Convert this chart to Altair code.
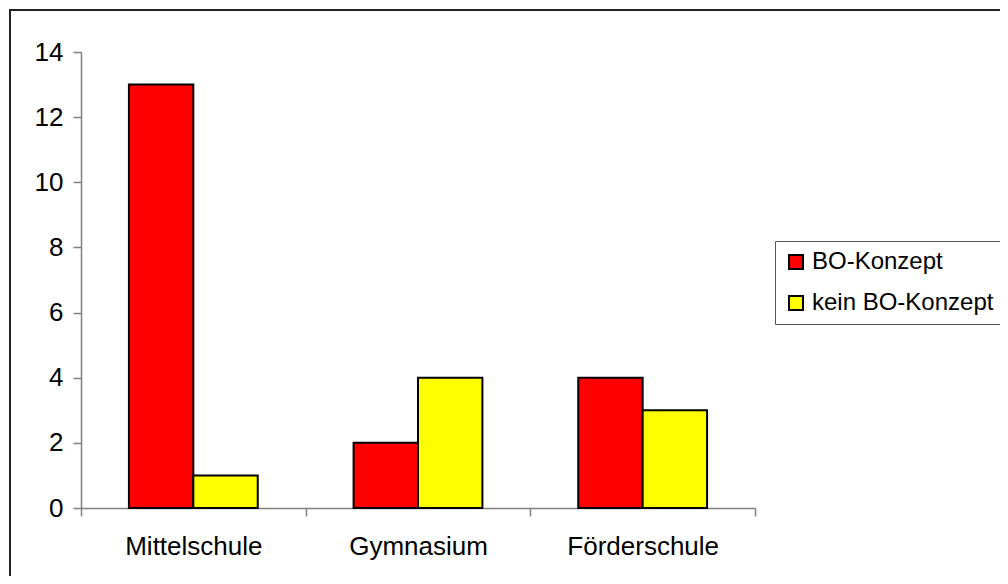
import altair as alt
import pandas as pd

categories = ["Mittelschule", "Gymnasium", "Förderschule"]
series = ["BO-Konzept", "kein BO-Konzept"]
bo_konzept = [13, 2, 4]
kein_bo_konzept = [1, 4, 3]
colors = ["#FF0000", "#FFFF00"]
y_ticks = [0, 2, 4, 6, 8, 10, 12, 14]

rows = []
for i, c in enumerate(categories):
    rows.append({"Schule": c, "Serie": series[0], "Wert": bo_konzept[i]})
    rows.append({"Schule": c, "Serie": series[1], "Wert": kein_bo_konzept[i]})
df = pd.DataFrame(rows)

FONT = "Liberation Sans"
FS = 26
W, H = 674, 456

bars = alt.Chart(df).mark_bar(stroke="black", strokeWidth=2).encode(
    x=alt.X(
        "Schule:N", sort=categories, title=None,
        scale=alt.Scale(paddingInner=0, paddingOuter=0),
        axis=alt.Axis(labelAngle=0, tickBand="extent", domainColor="#808080",
                      tickColor="#808080", tickSize=8, labelPadding=17,
                      labelFontSize=FS, labelColor="black", labelFont=FONT,
                      grid=False, domainWidth=1.5, tickWidth=1.5),
    ),
    xOffset=alt.XOffset("Serie:N", sort=series,
                        scale=alt.Scale(paddingOuter=0.744, paddingInner=0)),
    y=alt.Y(
        "Wert:Q", title=None,
        scale=alt.Scale(domain=[0, 14], nice=False),
        axis=alt.Axis(values=y_ticks, domainColor="#808080", tickColor="#808080",
                      tickSize=8, labelPadding=10, labelFontSize=FS,
                      labelColor="black", labelFont=FONT, grid=False,
                      domainWidth=1.5, tickWidth=1.5),
    ),
    color=alt.Color(
        "Serie:N", sort=series,
        scale=alt.Scale(domain=series, range=colors),
        legend=alt.Legend(title=None, orient="none", legendX=694, legendY=189,
                          strokeColor="#555555", padding=9, symbolType="square",
                          symbolSize=196, symbolStrokeColor="black",
                          symbolStrokeWidth=2, labelFontSize=24, labelFont=FONT,
                          labelColor="black", labelOffset=4, rowPadding=17,
                          labelLimit=0),
    ),
)

border = alt.Chart(alt.Data(values=[{}])).mark_rect(
    fill=None, stroke="#222222", strokeWidth=2
).encode(
    x=alt.value(-71), y=alt.value(-42), x2=alt.value(1200), y2=alt.value(800)
)

chart = alt.layer(border, bars).properties(
    width=W, height=H,
    autosize=alt.AutoSizeParams(type="none"),
    padding={"left": 73, "top": 44, "right": 245, "bottom": 68},
).configure_view(stroke=None)

chart.save("out.html", embed_options={"renderer": "svg", "actions": False})
